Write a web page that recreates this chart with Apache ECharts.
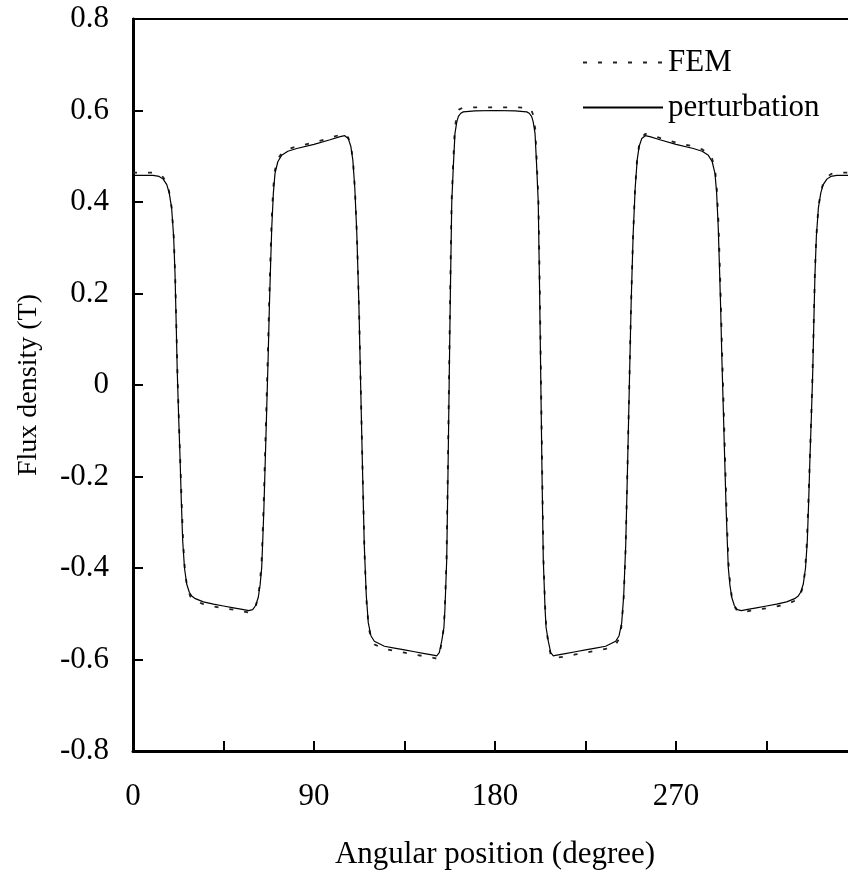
<!DOCTYPE html>
<html><head><meta charset="utf-8">
<script src="https://cdn.jsdelivr.net/npm/echarts@6/dist/echarts.min.js"></script>
<style>html,body{margin:0;padding:0;background:#fff}#c{width:848px;height:877px}</style>
</head><body><div id="c"></div>
<script>
// Perturbation result: angle (degree) and flux density (T)
const pertAngle = [0,5,10,13,15,16.8,18,19.2,20.2,20.9,21.5,22.0,22.7,23.4,24.0,24.7,25.6,26.7,28.0,29.2,31,35,40,45,50,55,57.5,59.5,61,62.3,63.2,64,64.6,65.1,65.8,66.5,67.2,67.8,68.4,69,69.8,70.6,72,73.9,77,81.4,90,98,103,105.3,107,108.3,109.3,110.3,111.3,112.3,113.2,114.1,115.0,116.0,117.0,118.3,120,125,130,135,140,145,150,151,152.3,153.5,154.6,155.1,155.6,156.0,156.6,157.2,157.8,158.5,159.3,160.1,161.0,161.8,163,164.2,170,180,
  190,195.8,197,198.2,199,199.9,200.7,201.5,202.2,202.8,203.4,204.0,204.4,204.9,205.4,206.5,207.7,209,210,215,220,225,230,235,240,241.7,243,244,245,245.9,246.8,247.7,248.7,249.7,250.7,251.7,253,254.7,257,262,270,278.6,283,286.1,288,289.4,290.2,291,291.6,292.2,292.8,293.5,294.2,294.9,295.4,296,296.8,297.7,299,300.5,302.5,305,310,315,320,325,329,330.8,332,333.3,334.4,335.3,336,336.6,337.3,338,338.5,339.1,339.8,340.8,342,343.2,345,347,350,355,360];
const pertValue = [0.458,0.458,0.458,0.456,0.450,0.438,0.420,0.387,0.325,0.242,0.130,0.030,-0.070,-0.160,-0.250,-0.340,-0.400,-0.435,-0.453,-0.461,-0.467,-0.474,-0.479,-0.483,-0.487,-0.491,-0.493,-0.491,-0.482,-0.464,-0.437,-0.399,-0.330,-0.268,-0.160,-0.050,0.060,0.169,0.260,0.345,0.420,0.462,0.488,0.502,0.511,0.517,0.526,0.536,0.543,0.545,0.539,0.522,0.492,0.430,0.330,0.180,0.000,-0.180,-0.350,-0.460,-0.520,-0.548,-0.560,-0.571,-0.575,-0.579,-0.583,-0.587,-0.591,-0.592,-0.585,-0.560,-0.530,-0.490,-0.430,-0.380,-0.200,0.000,0.200,0.400,0.480,0.550,0.575,0.587,0.594,0.597,0.599,0.600,
  0.599,0.597,0.594,0.587,0.575,0.550,0.480,0.400,0.200,0.000,-0.200,-0.380,-0.430,-0.490,-0.530,-0.560,-0.585,-0.592,-0.591,-0.587,-0.583,-0.579,-0.575,-0.571,-0.560,-0.548,-0.520,-0.460,-0.350,-0.180,0.000,0.180,0.330,0.430,0.492,0.522,0.539,0.545,0.543,0.536,0.526,0.517,0.511,0.502,0.488,0.462,0.420,0.345,0.260,0.169,0.060,-0.050,-0.160,-0.268,-0.330,-0.399,-0.437,-0.464,-0.482,-0.491,-0.493,-0.491,-0.487,-0.483,-0.479,-0.474,-0.467,-0.461,-0.453,-0.435,-0.400,-0.340,-0.250,-0.160,-0.070,0.030,0.130,0.242,0.325,0.387,0.420,0.438,0.450,0.456,0.458,0.458,0.458];

// FEM result: angle (degree) and flux density (T)
const femAngle = [0,10,13,15,16.8,18,19.2,20.3,21.0,21.6,22.2,22.9,23.6,24.3,25.0,25.9,27,28.5,30,35,40,45,50,55,57.5,59.5,61,62.3,63.1,63.9,64.5,65.0,65.7,66.4,67.1,67.7,68.3,68.9,69.7,70.5,72,74,77,81,90,98,103,105.3,107,108.4,109.4,110.4,111.4,112.4,113.3,114.2,115.1,116.1,117.2,118.5,120,125,130,135,140,145,150,151,152.3,153.5,154.5,155.0,155.5,155.9,156.5,157.1,157.7,158.4,159.2,160.0,161.0,162,164,170,180,
  190,196,198,199,200,200.8,201.6,202.3,202.9,203.5,204.1,204.5,205.0,205.5,206.5,207.7,209,210,215,220,225,230,235,240,241.5,242.8,243.9,244.9,245.8,246.7,247.6,248.6,249.6,250.6,251.6,253,254.7,257,262,270,279,283,286,288,289.5,290.3,291.1,291.7,292.3,292.9,293.6,294.3,295.0,295.5,296.1,296.9,297.7,299,300.5,302.5,305,310,315,320,325,330,331.5,333,334.1,335.0,335.7,336.4,337.1,337.8,338.4,339.0,339.7,340.8,342,343.2,345,347,350,360];
const femValue = [0.464,0.464,0.461,0.454,0.441,0.422,0.388,0.320,0.235,0.120,0.010,-0.090,-0.180,-0.270,-0.350,-0.410,-0.443,-0.462,-0.470,-0.479,-0.484,-0.488,-0.491,-0.495,-0.497,-0.494,-0.484,-0.462,-0.432,-0.390,-0.320,-0.255,-0.145,-0.035,0.075,0.180,0.272,0.357,0.428,0.468,0.494,0.507,0.515,0.521,0.530,0.540,0.547,0.549,0.541,0.522,0.490,0.425,0.320,0.165,-0.015,-0.195,-0.365,-0.472,-0.530,-0.556,-0.567,-0.577,-0.581,-0.585,-0.589,-0.593,-0.597,-0.598,-0.590,-0.563,-0.532,-0.492,-0.432,-0.380,-0.200,0.000,0.200,0.400,0.485,0.560,0.590,0.602,0.606,0.607,0.607,
  0.607,0.606,0.602,0.590,0.560,0.485,0.400,0.200,0.000,-0.200,-0.380,-0.432,-0.492,-0.532,-0.563,-0.590,-0.598,-0.597,-0.593,-0.589,-0.585,-0.581,-0.577,-0.567,-0.556,-0.530,-0.472,-0.365,-0.195,-0.015,0.165,0.320,0.425,0.490,0.522,0.541,0.549,0.547,0.540,0.530,0.521,0.515,0.507,0.494,0.468,0.428,0.357,0.272,0.180,0.075,-0.035,-0.145,-0.255,-0.320,-0.390,-0.432,-0.462,-0.484,-0.494,-0.497,-0.495,-0.491,-0.488,-0.484,-0.479,-0.470,-0.462,-0.443,-0.410,-0.350,-0.270,-0.180,-0.090,0.010,0.120,0.235,0.320,0.388,0.422,0.441,0.454,0.461,0.464,0.464];

const seriesNames = ['FEM', 'perturbation'];
const xTickLabels = ['0', '90', '180', '270'];
const yTickLabels = ['-0.8', '-0.6', '-0.4', '-0.2', '0', '0.2', '0.4', '0.6', '0.8'];
const xTitle = 'Angular position (degree)';
const yTitle = 'Flux density (T)';

const FONT = 'Liberation Serif, Times New Roman, serif';
const zip = (a, b) => a.map((v, i) => [v, b[i]]);

const chart = echarts.init(document.getElementById('c'), null, {renderer: 'canvas'});
chart.setOption({
  animation: false,
  backgroundColor: '#fff',
  grid: {left: 133, top: 19, width: 724, height: 732, containLabel: false, outerBoundsMode: 'none'},
  legend: {
    orient: 'vertical', left: 582, top: 47, padding: 0, itemGap: 14,
    itemWidth: 80, itemHeight: 14,
    data: seriesNames,
    itemStyle: {color: 'transparent', borderColor: 'transparent', borderWidth: 0},
    textStyle: {fontFamily: FONT, fontSize: 31, color: '#000', lineHeight: 31}
  },
  xAxis: [{
    type: 'value', min: 0, max: 360, interval: 45, position: 'bottom',
    name: xTitle, nameLocation: 'middle', nameGap: 88,
    nameTextStyle: {fontFamily: FONT, fontSize: 31, color: '#000'},
    axisLine: {show: true, onZero: false, lineStyle: {color: '#000', width: 3}},
    axisTick: {show: true, inside: true, length: 10, lineStyle: {color: '#000', width: 2}},
    axisLabel: {
      margin: 30, fontFamily: FONT, fontSize: 31, color: '#000',
      formatter: v => (v % 90 === 0 ? (xTickLabels[v / 90] || '') : '')
    },
    splitLine: {show: false}
  }, {
    type: 'value', min: 0, max: 360, position: 'top',
    axisLine: {show: true, onZero: false, lineStyle: {color: '#000', width: 2}},
    axisTick: {show: false}, axisLabel: {show: false}, splitLine: {show: false}
  }],
  yAxis: {
    type: 'value', min: -0.8, max: 0.8, interval: 0.2,
    name: yTitle, nameLocation: 'middle', nameGap: 90,
    nameTextStyle: {fontFamily: FONT, fontSize: 28, color: '#000'},
    axisLine: {show: true, onZero: false, lineStyle: {color: '#000', width: 3}},
    axisTick: {show: true, inside: true, length: 10, lineStyle: {color: '#000', width: 2}},
    axisLabel: {
      margin: 24, fontFamily: FONT, fontSize: 31, color: '#000',
      formatter: v => yTickLabels[Math.round((v + 0.8) / 0.2)]
    },
    splitLine: {show: false}
  },
  series: [{
    name: seriesNames[0], type: 'line', xAxisIndex: 0, symbol: 'none', color: '#222',
    data: zip(femAngle, femValue),
    lineStyle: {color: '#222', width: 1.8, type: [4, 11]},
    z: 2
  }, {
    name: seriesNames[1], type: 'line', xAxisIndex: 0, symbol: 'none', color: '#000',
    data: zip(pertAngle, pertValue),
    lineStyle: {color: '#000', width: 1.2, type: 'solid'},
    z: 3
  }]
});
</script>
</body></html>
